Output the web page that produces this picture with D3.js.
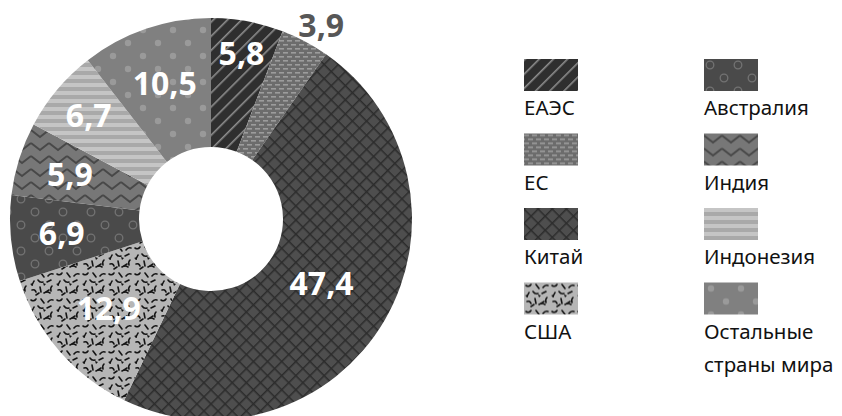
<!DOCTYPE html>
<html>
<head>
<meta charset="utf-8">
<script src="https://d3js.org/d3.v7.min.js"></script>
<style>
  body { margin: 0; background: #fff; }
  text { font-family: "Noto Sans", "Open Sans", sans-serif; }
</style>
</head>
<body>
<div id="chart-container"></div>
<script>
// data, clockwise from 12 o'clock
const regions = ["ЕАЭС", "ЕС", "Китай", "США", "Австралия", "Индия", "Индонезия", "Остальные страны мира"];
const shares = [5.8, 3.9, 47.4, 12.9, 6.9, 5.9, 6.7, 10.5];
const valueLabels = ["5,8", "3,9", "47,4", "12,9", "6,9", "5,9", "6,7", "10,5"];
const patternIds = ["p-eaes", "p-es", "p-china", "p-usa", "p-aus", "p-india", "p-indo", "p-rest"];

// label placement (radius from centre, angle nudge in radians), laid out by hand
const labelRadius = [168, 223, 128, 136, 150, 148, 160, 143];
const labelNudge = [0, 0.03, 0, 0, 0, 0, 0, 0];

const width = 842, height = 416;
const cx = 211, cy = 219, outerR = 201, innerR = 72;

const svg = d3.select("#chart-container").append("svg")
  .attr("width", width).attr("height", height);

const defs = svg.append("defs");

function pattern(id, w, h, bg, transform) {
  const p = defs.append("pattern").attr("id", id)
    .attr("patternUnits", "userSpaceOnUse")
    .attr("width", w).attr("height", h);
  if (transform) p.attr("patternTransform", transform);
  p.append("rect").attr("width", w).attr("height", h).attr("fill", bg);
  return p;
}

// ЕАЭС - dark with light diagonal stripes
pattern("p-eaes", 10, 10, "#2f2f2f", "rotate(45)")
  .append("rect").attr("x", 0).attr("y", 0).attr("width", 1.6).attr("height", 10).attr("fill", "#8c8c8c");

// ЕС - grey with short light dashes
const pes = pattern("p-es", 8, 8, "#6c6c6c");
pes.append("rect").attr("x", 0).attr("y", 1).attr("width", 5).attr("height", 1.6).attr("fill", "#9c9c9c");
pes.append("rect").attr("x", 4).attr("y", 5).attr("width", 5).attr("height", 1.6).attr("fill", "#9c9c9c");
pes.append("rect").attr("x", -4).attr("y", 5).attr("width", 5).attr("height", 1.6).attr("fill", "#9c9c9c");

// Китай - cross hatch
const pch = pattern("p-china", 10, 10, "#4e4e4e", "rotate(45)");
pch.append("rect").attr("x", 0).attr("y", 0).attr("width", 1.5).attr("height", 10).attr("fill", "#2c2c2c");
pch.append("rect").attr("x", 0).attr("y", 0).attr("width", 10).attr("height", 1.5).attr("fill", "#2c2c2c");

// США - light with dark squiggles
const pus = pattern("p-usa", 26, 26, "#b6b6b6");
const squiggles = [
  "M2,3 q3,2 5,-1", "M12,2 l3,4", "M19,5 q2,-3 5,-2", "M5,10 l-2,4", "M9,9 q2,3 5,2",
  "M18,11 l4,-2", "M23,15 q-2,2 -1,5", "M3,19 q3,-1 4,2", "M11,16 l1,5", "M15,22 q3,-2 6,0",
  "M7,24 l3,-2", "M20,19 l-3,2"
];
pus.selectAll("path").data(squiggles).join("path")
  .attr("d", d => d).attr("fill", "none").attr("stroke", "#151515")
  .attr("stroke-width", 1.6).attr("stroke-linecap", "round");
pus.append("path").attr("d", "M14,12 l3,1 -2,2z M1,13 l3,-1 0,3z").attr("fill", "#111");

// Австралия - dark with ring outlines
const pau = pattern("p-aus", 28, 26, "#4a4a4a");
[[6, 6], [20, 19]].forEach(c => pau.append("circle").attr("cx", c[0]).attr("cy", c[1]).attr("r", 3.8)
  .attr("fill", "none").attr("stroke", "#727272").attr("stroke-width", 1.3));

// Индия - zigzag
pattern("p-india", 18, 13, "#777777")
  .append("path").attr("d", "M0,2 L9,9 L18,2").attr("fill", "none")
  .attr("stroke", "#484848").attr("stroke-width", 2);

// Индонезия - horizontal stripes
pattern("p-indo", 8, 8, "#a9a9a9")
  .append("rect").attr("x", 0).attr("y", 0).attr("width", 8).attr("height", 4).attr("fill", "#c5c5c5");

// Остальные - grey with dots
const prest = pattern("p-rest", 30, 26, "#808080");
[[7, 6], [22, 19]].forEach(c => prest.append("circle").attr("cx", c[0]).attr("cy", c[1]).attr("r", 3.2)
  .attr("fill", "#9a9a9a"));

// donut
const pie = d3.pie().sort(null).value(d => d)(shares);
const arc = d3.arc().innerRadius(innerR).outerRadius(outerR);

const g = svg.append("g").attr("transform", `translate(${cx},${cy})`);
g.selectAll("path.slice").data(pie).join("path")
  .attr("class", "slice")
  .attr("d", arc)
  .attr("fill", (d, i) => `url(#${patternIds[i]})`);

g.selectAll("text.val").data(pie).join("text")
  .attr("class", "val")
  .attr("transform", (d, i) => {
    const a = (d.startAngle + d.endAngle) / 2 + labelNudge[i];
    return `translate(${labelRadius[i] * Math.sin(a)},${-labelRadius[i] * Math.cos(a)})`;
  })
  .attr("text-anchor", "middle")
  .attr("dy", "0.36em")
  .attr("font-size", 32)
  .attr("font-weight", "bold")
  .attr("fill", (d, i) => i === 1 ? "#575757" : "#ffffff")
  .text((d, i) => valueLabels[i]);

// legend: two columns of four
const legendX = [524, 704];
const legendTop = 59, rowStep = 74.5;

const items = svg.append("g").selectAll("g").data(regions).join("g")
  .attr("transform", (d, i) => `translate(${legendX[Math.floor(i / 4)]},${legendTop + (i % 4) * rowStep})`);

items.append("rect")
  .attr("width", 54).attr("height", 32)
  .attr("fill", (d, i) => `url(#${patternIds[i]})`);

items.append("text")
  .attr("font-size", 20.5)
  .attr("fill", "#111")
  .selectAll("tspan").data(d => d === "Остальные страны мира" ? ["Остальные", "страны мира"] : [d]).join("tspan")
  .attr("x", 0)
  .attr("y", (d, j) => 56 + j * 33)
  .text(d => d);
</script>
</body>
</html>
